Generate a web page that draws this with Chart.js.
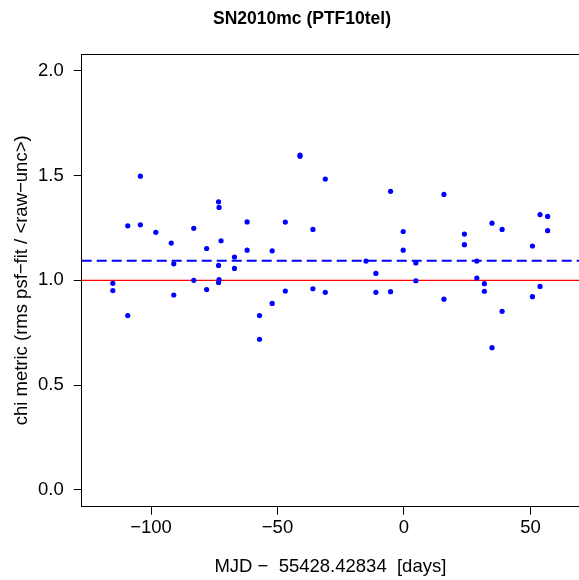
<!DOCTYPE html>
<html>
<head>
<meta charset="utf-8">
<script src="https://cdn.jsdelivr.net/npm/chart.js@4"></script>
<style>
  html, body { margin: 0; padding: 0; background: #fff; overflow: hidden; }
</style>
</head>
<body>
<canvas id="chiChart" width="579" height="580" style="width:579px;height:580px"></canvas>
<script>
// days relative to MJD 55428.42834
const days = [-115.1, -115.1, -109.2, -109.2, -104.2, -104.2, -98.1, -92.0, -91.0, -91.0,
    -83.1, -83.1, -78.0, -78.0, -73.3, -73.1, -72.3, -73.3, -73.1, -73.3,
    -67.0, -67.0, -62.0, -62.0, -57.1, -57.1, -52.1, -52.1, -46.9, -46.9,
    -41.1, -41.1, -36.0, -36.0, -31.1, -31.1, -15.0, -11.1, -11.1, -5.3,
    -5.3, -0.3, -0.3, 4.7, 4.7, 15.8, 15.8, 23.9, 23.9, 28.8,
    28.8, 31.8, 31.8, 34.8, 34.8, 38.8, 38.8, 50.8, 50.8, 53.8,
    53.8, 56.8, 56.8];
const chi = [0.986, 0.951, 1.260, 0.832, 1.497, 1.265, 1.229, 1.178, 1.079, 0.930,
    1.248, 1.000, 1.152, 0.956, 1.375, 1.348, 1.189, 1.071, 1.003, 0.990,
    1.111, 1.057, 1.279, 1.144, 0.832, 0.719, 1.141, 0.890, 1.278, 0.949,
    1.598, 1.592, 1.243, 0.960, 1.483, 0.943, 1.092, 1.033, 0.943, 1.425,
    0.946, 1.233, 1.144, 1.083, 0.998, 1.410, 0.910, 1.221, 1.170, 1.092,
    1.011, 0.984, 0.948, 1.273, 0.679, 1.243, 0.852, 1.164, 0.922, 1.314,
    0.971, 1.305, 1.237];

const refLevel = 1.0;      // red line
const meanLevel = 1.094;   // blue dashed line
const xTicks = [-100, -50, 0, 50];
const yTicks = [0, 0.5, 1, 1.5, 2];
const xRange = [-127.4, 69.2];
const yRange = [-0.08, 2.08];
const titleText = 'SN2010mc (PTF10tel)';

const font = "'Liberation Sans', Arial, Helvetica, sans-serif";

const points = days.map((d, i) => ({ x: d, y: chi[i] }));

// R style box top edge + main title (the plot was cropped on the right,
// so the title is not centred on the window)
const boxTop = {
    id: 'boxTop',
    afterDraw(chart) {
        const { ctx, chartArea } = chart;
        ctx.save();
        ctx.strokeStyle = '#000';
        ctx.lineWidth = 1;
        ctx.beginPath();
        ctx.moveTo(chartArea.left, chartArea.top + 0.5);
        ctx.lineTo(chartArea.right, chartArea.top + 0.5);
        ctx.stroke();

        ctx.fillStyle = '#000';
        ctx.font = 'bold 17.5px ' + font;
        ctx.textAlign = 'center';
        ctx.textBaseline = 'middle';
        ctx.fillText(titleText, 302, 19);
        ctx.restore();
    }
};

const ctx = document.getElementById('chiChart');

new Chart(ctx, {
    type: 'scatter',
    data: {
        datasets: [
            {
                data: points,
                backgroundColor: '#0000ff',
                borderColor: '#0000ff',
                pointRadius: 2.6,
                pointBorderWidth: 0
            },
            {
                data: [{ x: xRange[0], y: meanLevel }, { x: xRange[1], y: meanLevel }],
                showLine: true,
                borderColor: '#0000ff',
                borderWidth: 2,
                borderDash: [10, 5],
                pointRadius: 0
            },
            {
                data: [{ x: xRange[0], y: refLevel }, { x: xRange[1], y: refLevel }],
                showLine: true,
                borderColor: '#ff0000',
                borderWidth: 1.2,
                pointRadius: 0
            }
        ]
    },
    options: {
        responsive: false,
        animation: false,
        layout: { autoPadding: false, padding: { top: 54, left: 0, right: 0, bottom: 0 } },
        plugins: {
            legend: { display: false },
            tooltip: { enabled: false },
            title: { display: false }
        },
        scales: {
            x: {
                type: 'linear',
                min: xRange[0],
                max: xRange[1],
                afterBuildTicks: s => { s.ticks = xTicks.map(v => ({ value: v })); },
                afterFit: s => { s.height = 73.3; s.paddingLeft = 0; s.paddingRight = 0; },
                ticks: {
                    color: '#000',
                    padding: 2,
                    font: { family: font, size: 18.5 },
                    callback: v => (v < 0 ? '\u2212' + Math.abs(v) : String(v))
                },
                grid: { drawOnChartArea: false, tickLength: 8, color: '#000' },
                border: { display: true, color: '#000', width: 1 },
                title: {
                    display: true,
                    text: 'MJD \u2212  55428.42834  [days]',
                    color: '#000',
                    font: { family: font, size: 18.5, lineHeight: 0.6 },
                    padding: { top: 0, bottom: 7.5 }
                }
            },
            y: {
                type: 'linear',
                min: yRange[0],
                max: yRange[1],
                afterBuildTicks: s => { s.ticks = yTicks.map(v => ({ value: v })); },
                afterFit: s => { s.width = 81.7; s.paddingTop = 0; s.paddingBottom = 0; },
                ticks: {
                    color: '#000',
                    padding: 10,
                    font: { family: font, size: 18.5 },
                    callback: v => v.toFixed(1)
                },
                grid: { drawOnChartArea: false, tickLength: 8, color: '#000' },
                border: { display: true, color: '#000', width: 1 },
                title: {
                    display: true,
                    text: 'chi metric (rms psf\u2212fit / <raw\u2212unc>)',
                    color: '#000',
                    font: { family: font, size: 18.5, lineHeight: 1.2 },
                    padding: { top: 11, bottom: 0 }
                }
            }
        }
    },
    plugins: [boxTop]
});
</script>
</body>
</html>
